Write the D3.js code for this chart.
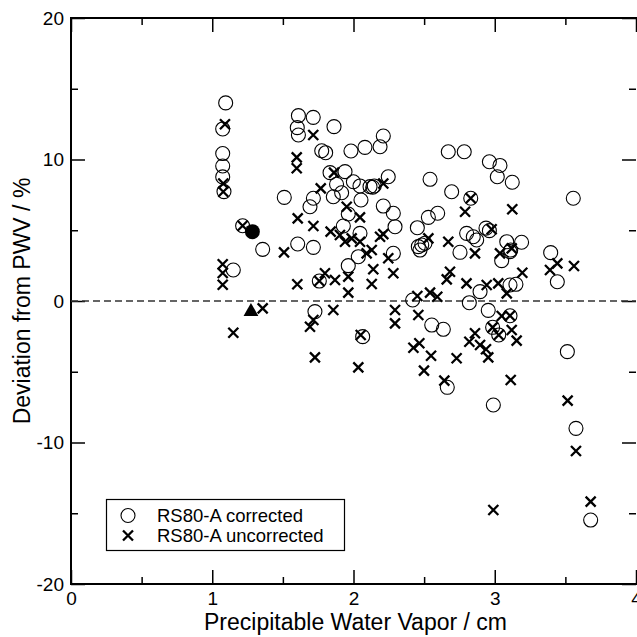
<!DOCTYPE html>
<html>
<head>
<meta charset="utf-8">
<script src="https://cdn.jsdelivr.net/npm/d3@7"></script>
<style>
  body { margin:0; background:#fff; }
  svg text { font-family: "Liberation Sans", Arial, Helvetica, sans-serif; fill:#000; }
</style>
</head>
<body>
<svg id="svg" width="637" height="637"></svg>
<script>
	// values: [PWV cm, deviation %]
	var corrected = [
		[1.095,14.0],[1.074,12.16],[1.074,10.42],[1.074,9.54],[1.074,8.77],[1.083,7.73],
		[1.215,5.32],[1.357,3.65],[1.149,2.19],[1.51,7.32],
		[1.61,13.1],[1.715,12.98],[1.602,12.25],[1.61,11.73],[1.862,12.32],
		[1.775,10.62],[1.803,10.48],[1.834,9.07],[1.94,9.14],[1.88,8.25],[1.716,7.26],[1.692,6.66],
		[1.857,7.37],[1.916,7.65],[1.605,4.03],[1.716,3.79],[1.758,1.41],[1.727,-0.75],
		[2.211,11.66],[1.982,10.6],[2.081,10.86],[2.188,10.9],[2.671,10.55],[2.784,10.55],
		[1.999,8.43],[2.046,8.13],[2.117,8.08],[2.136,8.04],[2.147,8.13],[2.246,8.78],[2.542,8.6],
		[2.695,7.72],[2.83,7.26],[2.053,7.14],[1.963,6.15],[2.211,6.71],[2.282,6.2],[2.294,5.25],
		[2.452,5.18],[2.53,5.91],[2.596,6.2],[1.928,5.3],[2.046,4.78],[2.801,4.78],[2.848,4.54],
		[2.872,4.31],[2.938,5.15],[2.962,4.97],[2.459,3.84],[2.483,3.96],[2.506,4.08],[2.471,3.6],
		[2.754,3.44],[1.963,2.5],[2.034,3.13],[2.282,3.37],
		[2.962,9.84],[3.037,9.58],[3.018,8.78],[3.124,8.39],[3.556,7.26],
		[3.085,4.19],[3.19,4.15],[3.113,3.6],[3.049,2.85],[3.108,3.49],[3.396,3.42],[3.443,1.36],
		[2.896,0.66],[3.108,1.13],[3.15,1.18],
		[2.419,0.07],[2.554,-1.7],[2.636,-2.0],[2.82,-0.12],[2.954,-0.66],[3.108,-1.04],
		[2.985,-1.86],[3.028,-2.4],[2.065,-2.52],[2.664,-6.1],[2.99,-7.35],[3.514,-3.58],
		[3.575,-9.0],[3.679,-15.48]
	];

	var uncorrected = [
		[1.09,12.49],[1.078,8.3],[1.078,7.72],[1.074,2.6],[1.074,1.98],[1.074,1.15],
		[1.215,5.32],[1.508,3.44],[1.357,-0.52],[1.149,-2.24],
		[1.715,11.73],[1.598,10.15],[1.598,9.38],[1.862,9.07],[1.768,7.96],[1.605,5.84],
		[1.716,5.3],[1.838,4.9],[1.602,1.18],[1.758,1.41],[1.798,1.96],[1.869,1.48],
		[1.716,-1.34],[1.692,-1.82],[1.857,-0.64],
		[2.211,8.3],[2.83,7.26],[2.79,6.31],[1.952,6.66],[2.046,5.91],
		[1.904,4.66],[1.94,4.19],[1.987,4.43],[2.046,4.19],[2.188,4.54],[2.211,4.73],
		[2.53,4.43],[2.671,4.19],[2.86,3.37],[2.093,3.37],[2.129,3.6],[2.246,3.02],
		[2.14,2.24],[2.282,1.96],[1.963,1.72],[2.683,2.07],[2.66,1.53],[2.8,1.25],
		[1.963,0.59],[2.129,1.2],[2.943,1.13],[2.452,0.35],[2.542,0.59],[2.593,0.3],
		[2.294,-0.64],[2.294,-1.58],[2.459,-0.99],[2.86,-2.28],[2.051,-2.4],
		[1.727,-3.98],[2.034,-4.69],[2.424,-3.3],[2.466,-2.99],[2.549,-3.87],[2.499,-4.92],
		[2.643,-5.63],[2.73,-4.05],
		[3.037,3.37],[3.391,2.19],[3.443,2.66],[3.561,2.47],
		[3.025,1.25],[3.085,0.54],[3.195,2.0],[3.124,6.48],[2.978,5.07],[3.12,3.72],
		[3.108,-1.04],[3.049,-1.06],[2.985,-1.86],[3.028,-2.4],[3.12,-2.05],[3.155,-2.8],
		[2.82,-2.88],[2.896,-3.11],[2.938,-3.41],[2.954,-3.98],[3.113,-5.58],
		[3.516,-7.04],[3.575,-10.6],[2.99,-14.77],[3.679,-14.18]
	];

	var filledCircle = [[1.284,4.9]];
	var filledTriangle = [[1.274,-0.75]];

	var xMajor = [0,1,2,3,4];
	var xMinor = [0.5,1.5,2.5,3.5];
	var yMajor = [-20,-10,0,10,20];
	var yMinor = [-15,-5,5,15];
	var legendLabels = ["RS80-A corrected","RS80-A uncorrected"];

	var svg = d3.select("#svg");

	var margin = {
		left:71,
		right:0,
		top:18,
		bottom:53
	};
	var width  = +svg.attr("width") - margin.left - margin.right;	// 566
	var height = +svg.attr("height") - margin.top - margin.bottom;	// 566

	var majorTick = 14;
	var minorTick = 7;

	let x = d3.scaleLinear().domain([0,4]).range([margin.left, margin.left + width - 1]);
	let y = d3.scaleLinear().domain([-20,20]).range([margin.top + height, margin.top]);

	// plain hyphen for negatives, like the original
	var fmt = d=>String(d);

	// axes on four sides, ticks pointing inward
	function styleAxis(g, labels){
		g.select('.domain').remove();
		g.selectAll('.tick line').style('stroke','#000').style('stroke-width',1.5);
		g.selectAll('text').style('font-size','19px');
		if (!labels) g.selectAll('text').remove();
	}

	svg.append('g')
		.attr('transform','translate(0,' + y(-20) + ')')
		.call(d3.axisBottom(x).tickValues(xMajor).tickFormat(fmt).tickSize(-majorTick).tickPadding(8))
		.call(g=>styleAxis(g,true));
	svg.append('g')
		.attr('transform','translate(0,' + y(-20) + ')')
		.call(d3.axisBottom(x).tickValues(xMinor).tickSize(-minorTick))
		.call(g=>styleAxis(g,false));
	svg.append('g')
		.attr('transform','translate(0,' + y(20) + ')')
		.call(d3.axisTop(x).tickValues(xMajor).tickSize(-majorTick))
		.call(g=>styleAxis(g,false));
	svg.append('g')
		.attr('transform','translate(0,' + y(20) + ')')
		.call(d3.axisTop(x).tickValues(xMinor).tickSize(-minorTick))
		.call(g=>styleAxis(g,false));

	svg.append('g')
		.attr('transform','translate(' + x(0) + ',0)')
		.call(d3.axisLeft(y).tickValues(yMajor).tickFormat(fmt).tickSize(-majorTick).tickPadding(7))
		.call(g=>styleAxis(g,true));
	svg.append('g')
		.attr('transform','translate(' + x(0) + ',0)')
		.call(d3.axisLeft(y).tickValues(yMinor).tickSize(-minorTick))
		.call(g=>styleAxis(g,false));
	svg.append('g')
		.attr('transform','translate(' + x(4) + ',0)')
		.call(d3.axisRight(y).tickValues(yMajor).tickSize(-majorTick))
		.call(g=>styleAxis(g,false));
	svg.append('g')
		.attr('transform','translate(' + x(4) + ',0)')
		.call(d3.axisRight(y).tickValues(yMinor).tickSize(-minorTick))
		.call(g=>styleAxis(g,false));

	// frame (right side falls just outside the window)
	svg.append('rect')
		.attr('x',x(0))
		.attr('y',y(20))
		.attr('width',x(4) - x(0) + 3)
		.attr('height',y(-20) - y(20))
		.style('fill','none')
		.style('stroke','#000')
		.style('stroke-width',2);

	// zero line
	svg.append('line')
		.attr('x1',x(0))
		.attr('x2',x(4))
		.attr('y1',y(0))
		.attr('y2',y(0))
		.style('stroke','#333')
		.style('stroke-width',1.3)
		.style('stroke-dasharray','7,4');

	let pts = svg.append('g');

	pts.selectAll('.corr')
		.data(corrected)
		.enter().append('circle')
		.classed('corr',true)
		.attr('cx',d=>x(d[0]))
		.attr('cy',d=>y(d[1]))
		.attr('r',7)
		.style('fill','none')
		.style('stroke','#000')
		.style('stroke-width',1.1);

	var crossPath = function(cx, cy, s){
		return 'M' + (cx-s) + ',' + (cy-s) + 'L' + (cx+s) + ',' + (cy+s) +
			'M' + (cx-s) + ',' + (cy+s) + 'L' + (cx+s) + ',' + (cy-s);
	};

	pts.selectAll('.uncorr')
		.data(uncorrected)
		.enter().append('path')
		.classed('uncorr',true)
		.attr('d',d=>crossPath(x(d[0]), y(d[1]), 5))
		.style('fill','none')
		.style('stroke','#000')
		.style('stroke-width',2.3);

	pts.selectAll('.dot')
		.data(filledCircle)
		.enter().append('circle')
		.classed('dot',true)
		.attr('cx',d=>x(d[0]))
		.attr('cy',d=>y(d[1]))
		.attr('r',7.5)
		.style('fill','#000');

	pts.selectAll('.tri')
		.data(filledTriangle)
		.enter().append('path')
		.classed('tri',true)
		.attr('transform',d=>'translate(' + x(d[0]) + ',' + y(d[1]) + ')')
		.attr('d',d3.symbol().type(d3.symbolTriangle).size(95))
		.style('fill','#000');

	// legend
	var lg = svg.append('g');
	lg.append('rect')
		.attr('x',106.5)
		.attr('y',499.5)
		.attr('width',238)
		.attr('height',51)
		.style('fill','#fff')
		.style('stroke','#000')
		.style('stroke-width',1.2);
	lg.append('circle')
		.attr('cx',128)
		.attr('cy',515.5)
		.attr('r',7)
		.style('fill','none')
		.style('stroke','#000')
		.style('stroke-width',1.1);
	lg.append('path')
		.attr('d',crossPath(128, 535.5, 5))
		.style('stroke','#000')
		.style('stroke-width',2.3);
	lg.selectAll('.lgtxt')
		.data(legendLabels)
		.enter().append('text')
		.classed('lgtxt',true)
		.attr('x',157)
		.attr('y',(d,i)=>515.5 + i*20)
		.attr('dy','0.35em')
		.style('font-size','18.5px')
		.text(d=>d);

	// axis titles
	svg.append('text')
		.attr('x',(x(0) + x(4))/2 + 2)
		.attr('y',630)
		.attr('text-anchor','middle')
		.style('font-size','23px')
		.text('Precipitable Water Vapor / cm');
	svg.append('text')
		.attr('transform','translate(30,' + y(0) + ') rotate(-90)')
		.attr('text-anchor','middle')
		.style('font-size','23px')
		.text('Deviation from PWV / %');
</script>
</body>
</html>
